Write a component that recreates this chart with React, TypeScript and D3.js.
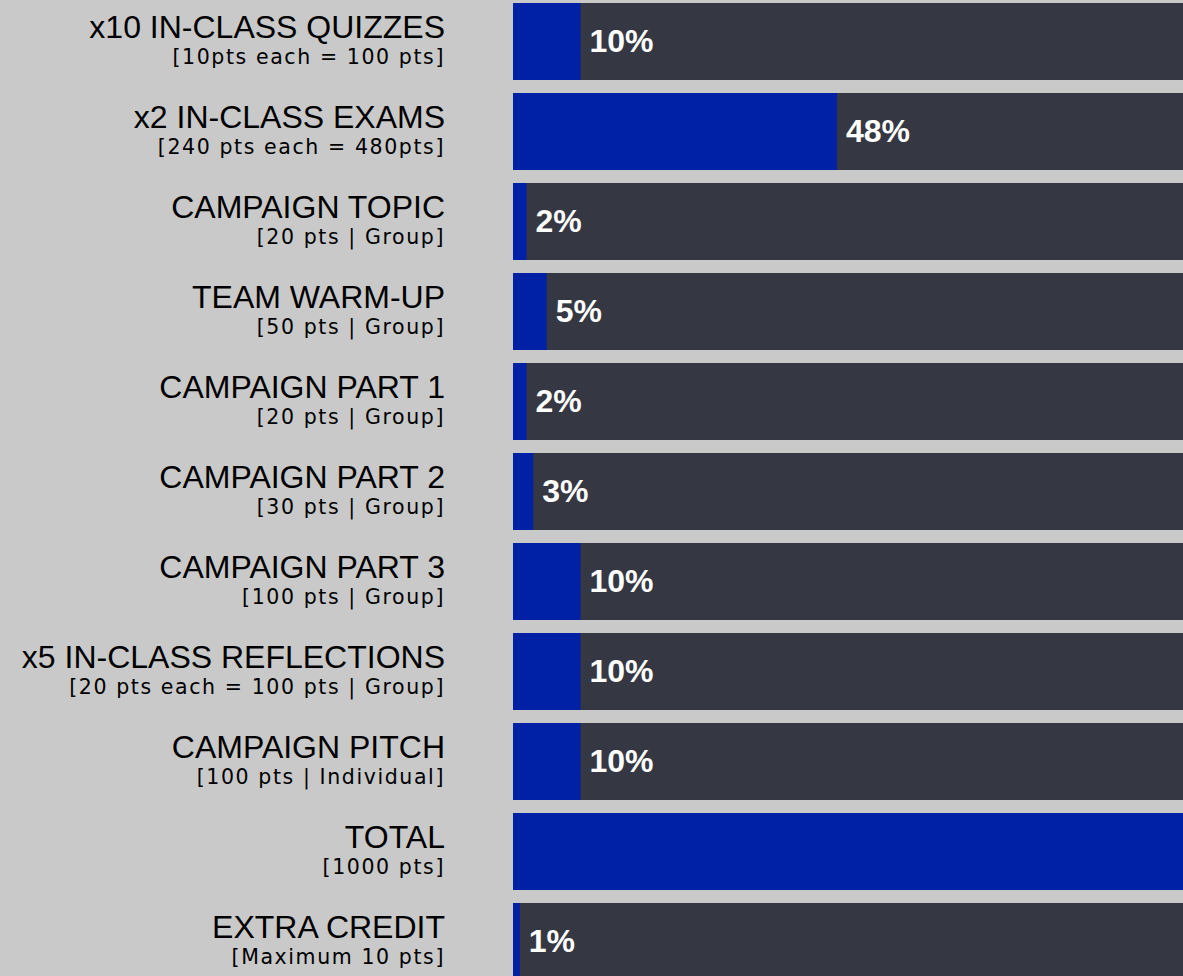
import React from "react";
import * as d3 from "d3";

const categories = [
  "x10 IN-CLASS QUIZZES",
  "x2 IN-CLASS EXAMS",
  "CAMPAIGN TOPIC",
  "TEAM WARM-UP",
  "CAMPAIGN PART 1",
  "CAMPAIGN PART 2",
  "CAMPAIGN PART 3",
  "x5 IN-CLASS REFLECTIONS",
  "CAMPAIGN PITCH",
  "TOTAL",
  "EXTRA CREDIT",
];

const subtitles = [
  "[10pts each = 100 pts]",
  "[240 pts each = 480pts]",
  "[20 pts | Group]",
  "[50 pts | Group]",
  "[20 pts | Group]",
  "[30 pts | Group]",
  "[100 pts | Group]",
  "[20 pts each = 100 pts | Group]",
  "[100 pts | Individual]",
  "[1000 pts]",
  "[Maximum 10 pts]",
];

const values = [10, 48, 2, 5, 2, 3, 10, 10, 10, 100, 1];
const showLabel = [true, true, true, true, true, true, true, true, true, false, true];

const W = 1183;
const H = 976;
const BG = "#c8c9c8";
const TRACK = "#353743";
const BLUE = "#0021a5";

export default function App() {
  const x = d3.scaleLinear().domain([0, 100]).range([513, 1188]);
  const y = d3
    .scaleBand<string>()
    .domain(categories)
    .range([3, 980])
    .paddingInner(13 / 90)
    .paddingOuter(0);
  const bw = y.bandwidth();

  return (
    <svg
      width={W}
      height={H}
      style={{ position: "absolute", left: 0, top: 0, display: "block" }}
    >
      <rect x={0} y={0} width={W} height={H} fill={BG} />
      {categories.map((c, i) => {
        const top = y(c)!;
        return (
          <g key={c}>
            <rect x={x(0)} y={top} width={x(100) - x(0)} height={bw} fill={TRACK} />
            <rect x={x(0)} y={top} width={x(values[i]) - x(0)} height={bw} fill={BLUE} />
            {showLabel[i] && (
              <text
                x={x(values[i]) + 9}
                y={top + 49}
                fill="#ffffff"
                fontFamily="'Liberation Sans', Arial, sans-serif"
                fontWeight="bold"
                fontSize={32}
              >
                {values[i]}%
              </text>
            )}
            <text
              x={445}
              y={top + 35}
              textAnchor="end"
              fill="#000000"
              fontFamily="'Liberation Sans', Arial, sans-serif"
              fontSize={32}
            >
              {c}
            </text>
            <text
              x={445}
              y={top + 61}
              textAnchor="end"
              fill="#000000"
              fontFamily="'DejaVu Sans', sans-serif"
              fontSize={20.5}
              letterSpacing={1.6}
            >
              {subtitles[i]}
            </text>
          </g>
        );
      })}
    </svg>
  );
}
